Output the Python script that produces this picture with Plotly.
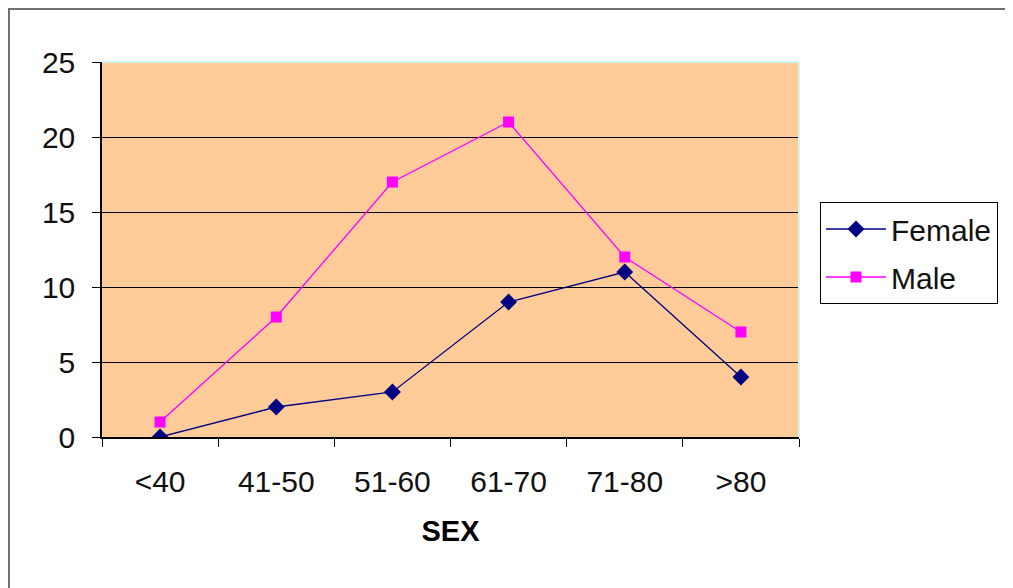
import plotly.graph_objects as go

categories = ["<40", "41-50", "51-60", "61-70", "71-80", ">80"]
female = [0, 2, 3, 9, 11, 4]
male = [1, 8, 17, 21, 12, 7]
y_ticks = [0, 5, 10, 15, 20, 25]

# page is offset by 8px body margin
OFF = 8
W, H = 1013 - OFF, 588 - OFF
L, T = 102 - OFF, 62 - OFF
R = W - (799 - OFF)
B = H - (437 - OFF)
pw, ph = W - L - R, H - T - B

def px(x):
    return (x - OFF - L) / pw

def py(y):
    return (H - B - (y - OFF)) / ph

font = "Liberation Sans, Arial, sans-serif"

fig = go.Figure()
fig.add_trace(go.Scatter(
    x=categories, y=female, name="Female", mode="lines+markers",
    legendgroup="f",
    line=dict(color="#000080", width=1.3),
    marker=dict(symbol="diamond", size=13, color="#000080"),
))
fig.add_trace(go.Scatter(
    x=categories, y=male, name="Male", mode="lines+markers",
    legendgroup="m",
    line=dict(color="#FF00FF", width=1.3),
    marker=dict(symbol="square", size=11, color="#FF00FF"),
))

fig.update_layout(
    width=W, height=H,
    margin=dict(l=L, r=R, t=T, b=B, pad=0),
    paper_bgcolor="white",
    plot_bgcolor="#FFCC99",
    font=dict(family=font, size=30, color="#111111"),
    showlegend=True,
    legend=dict(
        x=px(820), y=py(202), xanchor="left", yanchor="top",
        bgcolor="white", bordercolor="black", borderwidth=1,
        font=dict(family=font, size=30, color="#111111"),
        itemwidth=60, traceorder="grouped", tracegroupgap=6,
    ),
    xaxis=dict(
        type="category", range=[-0.5, 5.5],
        tickson="boundaries", ticks="outside", ticklen=8, tickcolor="black",
        showline=True, linecolor="black", linewidth=1.5,
        showgrid=False, zeroline=False,
        ticklabelstandoff=17,
        title=dict(text="<b>SEX</b>", standoff=24, font=dict(family=font, size=29, color="black")),
    ),
    yaxis=dict(
        range=[0, 25], tickvals=y_ticks,
        ticks="outside", ticklen=8, tickcolor="black",
        showline=True, linecolor="black", linewidth=1.5,
        showgrid=True, gridcolor="black", gridwidth=1.2,
        zeroline=False, ticklabelstandoff=11,
    ),
    shapes=[
        dict(type="line", xref="paper", yref="paper", x0=0, x1=1, y0=1, y1=1,
             line=dict(color="#CFF5EE", width=2), layer="above"),
        dict(type="line", xref="paper", yref="paper", x0=1, x1=1, y0=0, y1=1,
             line=dict(color="#CFF5EE", width=2), layer="above"),
        dict(type="rect", xref="paper", yref="paper",
             x0=px(9), x1=px(1040), y0=py(9), y1=py(640),
             line=dict(color="#707070", width=2), layer="below"),
    ],
)

fig.write_html("out.html")
